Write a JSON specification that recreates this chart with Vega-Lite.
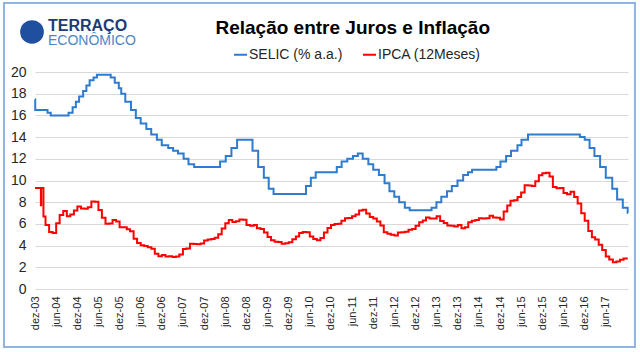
{
  "$schema": "https://vega.github.io/schema/vega-lite/v6.json",
  "width": 593,
  "height": 217,
  "autosize": {"type": "none"},
  "padding": {"left": 35, "top": 72, "right": 12, "bottom": 63},
  "background": "white",
  "datasets": {
    "selic": [
      {"d": "2003-12-01", "v": 17.5},
      {"d": "2003-12-03", "v": 16.5},
      {"d": "2004-03-18", "v": 16.25},
      {"d": "2004-04-15", "v": 16.0},
      {"d": "2004-09-16", "v": 16.25},
      {"d": "2004-10-21", "v": 16.75},
      {"d": "2004-11-18", "v": 17.25},
      {"d": "2004-12-16", "v": 17.75},
      {"d": "2005-01-20", "v": 18.25},
      {"d": "2005-02-17", "v": 18.75},
      {"d": "2005-03-17", "v": 19.25},
      {"d": "2005-04-20", "v": 19.5},
      {"d": "2005-05-19", "v": 19.75},
      {"d": "2005-09-15", "v": 19.5},
      {"d": "2005-10-20", "v": 19.0},
      {"d": "2005-11-24", "v": 18.5},
      {"d": "2005-12-15", "v": 18.0},
      {"d": "2006-01-19", "v": 17.25},
      {"d": "2006-03-09", "v": 16.5},
      {"d": "2006-04-20", "v": 15.75},
      {"d": "2006-06-01", "v": 15.25},
      {"d": "2006-07-20", "v": 14.75},
      {"d": "2006-08-31", "v": 14.25},
      {"d": "2006-10-19", "v": 13.75},
      {"d": "2006-11-30", "v": 13.25},
      {"d": "2007-01-25", "v": 13.0},
      {"d": "2007-03-08", "v": 12.75},
      {"d": "2007-04-19", "v": 12.5},
      {"d": "2007-06-07", "v": 12.0},
      {"d": "2007-07-19", "v": 11.5},
      {"d": "2007-09-06", "v": 11.25},
      {"d": "2008-04-17", "v": 11.75},
      {"d": "2008-06-05", "v": 12.25},
      {"d": "2008-07-24", "v": 13.0},
      {"d": "2008-09-11", "v": 13.75},
      {"d": "2009-01-22", "v": 12.75},
      {"d": "2009-03-12", "v": 11.25},
      {"d": "2009-04-30", "v": 10.25},
      {"d": "2009-06-11", "v": 9.25},
      {"d": "2009-07-23", "v": 8.75},
      {"d": "2010-04-29", "v": 9.5},
      {"d": "2010-06-10", "v": 10.25},
      {"d": "2010-07-22", "v": 10.75},
      {"d": "2011-01-20", "v": 11.25},
      {"d": "2011-03-03", "v": 11.75},
      {"d": "2011-04-21", "v": 12.0},
      {"d": "2011-06-09", "v": 12.25},
      {"d": "2011-07-21", "v": 12.5},
      {"d": "2011-09-01", "v": 12.0},
      {"d": "2011-10-20", "v": 11.5},
      {"d": "2011-12-01", "v": 11.0},
      {"d": "2012-01-19", "v": 10.5},
      {"d": "2012-03-08", "v": 9.75},
      {"d": "2012-04-19", "v": 9.0},
      {"d": "2012-05-31", "v": 8.5},
      {"d": "2012-07-12", "v": 8.0},
      {"d": "2012-08-30", "v": 7.5},
      {"d": "2012-10-11", "v": 7.25},
      {"d": "2013-04-18", "v": 7.5},
      {"d": "2013-05-30", "v": 8.0},
      {"d": "2013-07-11", "v": 8.5},
      {"d": "2013-08-29", "v": 9.0},
      {"d": "2013-10-10", "v": 9.5},
      {"d": "2013-11-28", "v": 10.0},
      {"d": "2014-01-16", "v": 10.5},
      {"d": "2014-02-27", "v": 10.75},
      {"d": "2014-04-03", "v": 11.0},
      {"d": "2014-10-30", "v": 11.25},
      {"d": "2014-12-04", "v": 11.75},
      {"d": "2015-01-22", "v": 12.25},
      {"d": "2015-03-05", "v": 12.75},
      {"d": "2015-04-30", "v": 13.25},
      {"d": "2015-06-04", "v": 13.75},
      {"d": "2015-07-30", "v": 14.25},
      {"d": "2016-10-20", "v": 14.0},
      {"d": "2016-12-01", "v": 13.75},
      {"d": "2017-01-12", "v": 13.0},
      {"d": "2017-02-23", "v": 12.25},
      {"d": "2017-04-13", "v": 11.25},
      {"d": "2017-06-01", "v": 10.25},
      {"d": "2017-07-27", "v": 9.25},
      {"d": "2017-09-07", "v": 8.25},
      {"d": "2017-10-26", "v": 7.5},
      {"d": "2017-12-07", "v": 7.0},
      {"d": "2017-12-09", "v": 7.0}
    ],
    "ipca": [
      {"d": "2003-12-01", "v": 9.30},
      {"d": "2004-01-21", "v": 7.71},
      {"d": "2004-01-23", "v": 9.30},
      {"d": "2004-02-12", "v": 6.69},
      {"d": "2004-03-01", "v": 5.89},
      {"d": "2004-04-01", "v": 5.26},
      {"d": "2004-05-01", "v": 5.15},
      {"d": "2004-06-01", "v": 6.06},
      {"d": "2004-07-01", "v": 6.81},
      {"d": "2004-08-01", "v": 7.18},
      {"d": "2004-09-01", "v": 6.71},
      {"d": "2004-10-01", "v": 6.86},
      {"d": "2004-11-01", "v": 7.24},
      {"d": "2004-12-01", "v": 7.60},
      {"d": "2005-01-01", "v": 7.41},
      {"d": "2005-02-01", "v": 7.39},
      {"d": "2005-03-01", "v": 7.54},
      {"d": "2005-04-01", "v": 8.07},
      {"d": "2005-05-01", "v": 8.05},
      {"d": "2005-06-01", "v": 7.27},
      {"d": "2005-07-01", "v": 6.57},
      {"d": "2005-08-01", "v": 6.02},
      {"d": "2005-09-01", "v": 6.04},
      {"d": "2005-10-01", "v": 6.36},
      {"d": "2005-11-01", "v": 6.22},
      {"d": "2005-12-01", "v": 5.69},
      {"d": "2006-01-01", "v": 5.70},
      {"d": "2006-02-01", "v": 5.51},
      {"d": "2006-03-01", "v": 5.32},
      {"d": "2006-04-01", "v": 4.63},
      {"d": "2006-05-01", "v": 4.23},
      {"d": "2006-06-01", "v": 4.03},
      {"d": "2006-07-01", "v": 3.97},
      {"d": "2006-08-01", "v": 3.84},
      {"d": "2006-09-01", "v": 3.70},
      {"d": "2006-10-01", "v": 3.26},
      {"d": "2006-11-01", "v": 3.02},
      {"d": "2006-12-01", "v": 3.14},
      {"d": "2007-01-01", "v": 2.99},
      {"d": "2007-02-01", "v": 3.02},
      {"d": "2007-03-01", "v": 2.96},
      {"d": "2007-04-01", "v": 3.00},
      {"d": "2007-05-01", "v": 3.18},
      {"d": "2007-06-01", "v": 3.69},
      {"d": "2007-07-01", "v": 3.74},
      {"d": "2007-08-01", "v": 4.18},
      {"d": "2007-09-01", "v": 4.15},
      {"d": "2007-10-01", "v": 4.12},
      {"d": "2007-11-01", "v": 4.19},
      {"d": "2007-12-01", "v": 4.46},
      {"d": "2008-01-01", "v": 4.56},
      {"d": "2008-02-01", "v": 4.61},
      {"d": "2008-03-01", "v": 4.73},
      {"d": "2008-04-01", "v": 5.04},
      {"d": "2008-05-01", "v": 5.58},
      {"d": "2008-06-01", "v": 6.06},
      {"d": "2008-07-01", "v": 6.37},
      {"d": "2008-08-01", "v": 6.17},
      {"d": "2008-09-01", "v": 6.25},
      {"d": "2008-10-01", "v": 6.41},
      {"d": "2008-11-01", "v": 6.39},
      {"d": "2008-12-01", "v": 5.90},
      {"d": "2009-01-01", "v": 5.84},
      {"d": "2009-02-01", "v": 5.90},
      {"d": "2009-03-01", "v": 5.61},
      {"d": "2009-04-01", "v": 5.53},
      {"d": "2009-05-01", "v": 5.20},
      {"d": "2009-06-01", "v": 4.80},
      {"d": "2009-07-01", "v": 4.50},
      {"d": "2009-08-01", "v": 4.36},
      {"d": "2009-09-01", "v": 4.34},
      {"d": "2009-10-01", "v": 4.17},
      {"d": "2009-11-01", "v": 4.22},
      {"d": "2009-12-01", "v": 4.31},
      {"d": "2010-01-01", "v": 4.59},
      {"d": "2010-02-01", "v": 4.83},
      {"d": "2010-03-01", "v": 5.17},
      {"d": "2010-04-01", "v": 5.26},
      {"d": "2010-05-01", "v": 5.22},
      {"d": "2010-06-01", "v": 4.84},
      {"d": "2010-07-01", "v": 4.60},
      {"d": "2010-08-01", "v": 4.49},
      {"d": "2010-09-01", "v": 4.70},
      {"d": "2010-10-01", "v": 5.20},
      {"d": "2010-11-01", "v": 5.63},
      {"d": "2010-12-01", "v": 5.91},
      {"d": "2011-01-01", "v": 5.99},
      {"d": "2011-02-01", "v": 6.01},
      {"d": "2011-03-01", "v": 6.30},
      {"d": "2011-04-01", "v": 6.51},
      {"d": "2011-05-01", "v": 6.55},
      {"d": "2011-06-01", "v": 6.71},
      {"d": "2011-07-01", "v": 6.87},
      {"d": "2011-08-01", "v": 7.23},
      {"d": "2011-09-01", "v": 7.31},
      {"d": "2011-10-01", "v": 6.97},
      {"d": "2011-11-01", "v": 6.64},
      {"d": "2011-12-01", "v": 6.50},
      {"d": "2012-01-01", "v": 6.22},
      {"d": "2012-02-01", "v": 5.85},
      {"d": "2012-03-01", "v": 5.24},
      {"d": "2012-04-01", "v": 5.10},
      {"d": "2012-05-01", "v": 4.99},
      {"d": "2012-06-01", "v": 4.92},
      {"d": "2012-07-01", "v": 5.20},
      {"d": "2012-08-01", "v": 5.24},
      {"d": "2012-09-01", "v": 5.28},
      {"d": "2012-10-01", "v": 5.45},
      {"d": "2012-11-01", "v": 5.53},
      {"d": "2012-12-01", "v": 5.84},
      {"d": "2013-01-01", "v": 6.15},
      {"d": "2013-02-01", "v": 6.31},
      {"d": "2013-03-01", "v": 6.59},
      {"d": "2013-04-01", "v": 6.49},
      {"d": "2013-05-01", "v": 6.50},
      {"d": "2013-06-01", "v": 6.70},
      {"d": "2013-07-01", "v": 6.27},
      {"d": "2013-08-01", "v": 6.09},
      {"d": "2013-09-01", "v": 5.86},
      {"d": "2013-10-01", "v": 5.84},
      {"d": "2013-11-01", "v": 5.77},
      {"d": "2013-12-01", "v": 5.91},
      {"d": "2014-01-01", "v": 5.59},
      {"d": "2014-02-01", "v": 5.68},
      {"d": "2014-03-01", "v": 6.15},
      {"d": "2014-04-01", "v": 6.28},
      {"d": "2014-05-01", "v": 6.37},
      {"d": "2014-06-01", "v": 6.52},
      {"d": "2014-07-01", "v": 6.50},
      {"d": "2014-08-01", "v": 6.51},
      {"d": "2014-09-01", "v": 6.75},
      {"d": "2014-10-01", "v": 6.59},
      {"d": "2014-11-01", "v": 6.56},
      {"d": "2014-12-01", "v": 6.41},
      {"d": "2015-01-01", "v": 7.14},
      {"d": "2015-02-01", "v": 7.70},
      {"d": "2015-03-01", "v": 8.13},
      {"d": "2015-04-01", "v": 8.17},
      {"d": "2015-05-01", "v": 8.47},
      {"d": "2015-06-01", "v": 8.89},
      {"d": "2015-07-01", "v": 9.56},
      {"d": "2015-08-01", "v": 9.53},
      {"d": "2015-09-01", "v": 9.49},
      {"d": "2015-10-01", "v": 9.93},
      {"d": "2015-11-01", "v": 10.48},
      {"d": "2015-12-01", "v": 10.67},
      {"d": "2016-01-01", "v": 10.71},
      {"d": "2016-02-01", "v": 10.36},
      {"d": "2016-03-01", "v": 9.39},
      {"d": "2016-04-01", "v": 9.28},
      {"d": "2016-05-01", "v": 9.32},
      {"d": "2016-06-01", "v": 8.84},
      {"d": "2016-07-01", "v": 8.74},
      {"d": "2016-08-01", "v": 8.97},
      {"d": "2016-09-01", "v": 8.48},
      {"d": "2016-10-01", "v": 7.87},
      {"d": "2016-11-01", "v": 6.99},
      {"d": "2016-12-01", "v": 6.29},
      {"d": "2017-01-01", "v": 5.35},
      {"d": "2017-02-01", "v": 4.76},
      {"d": "2017-03-01", "v": 4.57},
      {"d": "2017-04-01", "v": 4.08},
      {"d": "2017-05-01", "v": 3.60},
      {"d": "2017-06-01", "v": 3.00},
      {"d": "2017-07-01", "v": 2.71},
      {"d": "2017-08-01", "v": 2.46},
      {"d": "2017-09-01", "v": 2.54},
      {"d": "2017-10-01", "v": 2.70},
      {"d": "2017-11-01", "v": 2.80},
      {"d": "2017-12-08", "v": 2.80}
    ]
  },
  "layer": [
    {
      "data": {"name": "selic"},
      "mark": {"type": "line", "interpolate": "step-after", "strokeWidth": 2},
      "encoding": {
        "x": {"field": "d", "type": "temporal", "scale": {"domain": [{"year": 2003, "month": 12, "date": 1}, {"year": 2017, "month": 12, "date": 10}]},
          "axis": {"title": null, "grid": false, "domain": false, "ticks": false, "labelAngle": -90, "labelAlign": "right", "labelBaseline": "middle", "labelPadding": 7, "labelFont": "Liberation Sans", "labelFontSize": 11, "labelColor": "#262626", "labelOverlap": false,
            "values": [{"year": 2003, "month": 12, "date": 1}, {"year": 2004, "month": 6, "date": 1}, {"year": 2004, "month": 12, "date": 1}, {"year": 2005, "month": 6, "date": 1}, {"year": 2005, "month": 12, "date": 1}, {"year": 2006, "month": 6, "date": 1}, {"year": 2006, "month": 12, "date": 1}, {"year": 2007, "month": 6, "date": 1}, {"year": 2007, "month": 12, "date": 1}, {"year": 2008, "month": 6, "date": 1}, {"year": 2008, "month": 12, "date": 1}, {"year": 2009, "month": 6, "date": 1}, {"year": 2009, "month": 12, "date": 1}, {"year": 2010, "month": 6, "date": 1}, {"year": 2010, "month": 12, "date": 1}, {"year": 2011, "month": 6, "date": 1}, {"year": 2011, "month": 12, "date": 1}, {"year": 2012, "month": 6, "date": 1}, {"year": 2012, "month": 12, "date": 1}, {"year": 2013, "month": 6, "date": 1}, {"year": 2013, "month": 12, "date": 1}, {"year": 2014, "month": 6, "date": 1}, {"year": 2014, "month": 12, "date": 1}, {"year": 2015, "month": 6, "date": 1}, {"year": 2015, "month": 12, "date": 1}, {"year": 2016, "month": 6, "date": 1}, {"year": 2016, "month": 12, "date": 1}, {"year": 2017, "month": 6, "date": 1}],
            "labelExpr": "(month(datum.value) == 11 ? 'dez-' : 'jun-') + timeFormat(datum.value, '%y')"}},
        "y": {"field": "v", "type": "quantitative", "scale": {"domain": [0, 20], "nice": false},
          "axis": {"title": null, "values": [0, 2, 4, 6, 8, 10, 12, 14, 16, 18, 20], "domain": false, "ticks": false, "grid": true, "gridColor": "#d9d9d9", "gridWidth": 1, "labelPadding": 9, "labelFont": "Liberation Sans", "labelFontSize": 14, "labelColor": "#262626"}},
        "color": {
          "datum": "SELIC (% a.a.)",
          "type": "nominal",
          "scale": {"domain": ["SELIC (% a.a.)", "IPCA (12Meses)"], "range": ["#2e7bcf", "#ff0000"]},
          "legend": {"title": null, "orient": "none", "legendX": 198, "legendY": -25, "direction": "horizontal", "symbolType": "stroke", "symbolStrokeWidth": 2, "symbolSize": 169, "labelFont": "Liberation Sans", "labelFontSize": 14, "labelColor": "#262626", "labelOffset": 1, "columnPadding": 16}
        }
      }
    },
    {
      "data": {"name": "ipca"},
      "mark": {"type": "line", "interpolate": "step-after", "strokeWidth": 2},
      "encoding": {
        "x": {"field": "d", "type": "temporal",
          "axis": {"title": null, "grid": false, "domain": false, "ticks": false, "labelAngle": -90, "labelAlign": "right", "labelBaseline": "middle", "labelPadding": 7, "labelFont": "Liberation Sans", "labelFontSize": 11, "labelColor": "#262626", "labelOverlap": false,
            "values": [{"year": 2003, "month": 12, "date": 1}, {"year": 2004, "month": 6, "date": 1}, {"year": 2004, "month": 12, "date": 1}, {"year": 2005, "month": 6, "date": 1}, {"year": 2005, "month": 12, "date": 1}, {"year": 2006, "month": 6, "date": 1}, {"year": 2006, "month": 12, "date": 1}, {"year": 2007, "month": 6, "date": 1}, {"year": 2007, "month": 12, "date": 1}, {"year": 2008, "month": 6, "date": 1}, {"year": 2008, "month": 12, "date": 1}, {"year": 2009, "month": 6, "date": 1}, {"year": 2009, "month": 12, "date": 1}, {"year": 2010, "month": 6, "date": 1}, {"year": 2010, "month": 12, "date": 1}, {"year": 2011, "month": 6, "date": 1}, {"year": 2011, "month": 12, "date": 1}, {"year": 2012, "month": 6, "date": 1}, {"year": 2012, "month": 12, "date": 1}, {"year": 2013, "month": 6, "date": 1}, {"year": 2013, "month": 12, "date": 1}, {"year": 2014, "month": 6, "date": 1}, {"year": 2014, "month": 12, "date": 1}, {"year": 2015, "month": 6, "date": 1}, {"year": 2015, "month": 12, "date": 1}, {"year": 2016, "month": 6, "date": 1}, {"year": 2016, "month": 12, "date": 1}, {"year": 2017, "month": 6, "date": 1}],
            "labelExpr": "(month(datum.value) == 11 ? 'dez-' : 'jun-') + timeFormat(datum.value, '%y')"}},
        "y": {"field": "v", "type": "quantitative",
          "axis": {"title": null, "values": [0, 2, 4, 6, 8, 10, 12, 14, 16, 18, 20], "domain": false, "ticks": false, "grid": true, "gridColor": "#d9d9d9", "gridWidth": 1, "labelPadding": 9, "labelFont": "Liberation Sans", "labelFontSize": 14, "labelColor": "#262626"}},
        "color": {"datum": "IPCA (12Meses)", "type": "nominal"}
      }
    },
    {
      "data": {"values": [{}]},
      "mark": {"type": "rect", "fill": "white", "fillOpacity": 0, "stroke": "#8db4e2", "strokeWidth": 2},
      "encoding": {
        "x": {"datum": {"year": 2003, "month": 3, "date": 8}, "type": "temporal",
          "axis": {"title": null, "grid": false, "domain": false, "ticks": false, "labelAngle": -90, "labelAlign": "right", "labelBaseline": "middle", "labelPadding": 7, "labelFont": "Liberation Sans", "labelFontSize": 11, "labelColor": "#262626", "labelOverlap": false,
            "values": [{"year": 2003, "month": 12, "date": 1}, {"year": 2004, "month": 6, "date": 1}, {"year": 2004, "month": 12, "date": 1}, {"year": 2005, "month": 6, "date": 1}, {"year": 2005, "month": 12, "date": 1}, {"year": 2006, "month": 6, "date": 1}, {"year": 2006, "month": 12, "date": 1}, {"year": 2007, "month": 6, "date": 1}, {"year": 2007, "month": 12, "date": 1}, {"year": 2008, "month": 6, "date": 1}, {"year": 2008, "month": 12, "date": 1}, {"year": 2009, "month": 6, "date": 1}, {"year": 2009, "month": 12, "date": 1}, {"year": 2010, "month": 6, "date": 1}, {"year": 2010, "month": 12, "date": 1}, {"year": 2011, "month": 6, "date": 1}, {"year": 2011, "month": 12, "date": 1}, {"year": 2012, "month": 6, "date": 1}, {"year": 2012, "month": 12, "date": 1}, {"year": 2013, "month": 6, "date": 1}, {"year": 2013, "month": 12, "date": 1}, {"year": 2014, "month": 6, "date": 1}, {"year": 2014, "month": 12, "date": 1}, {"year": 2015, "month": 6, "date": 1}, {"year": 2015, "month": 12, "date": 1}, {"year": 2016, "month": 6, "date": 1}, {"year": 2016, "month": 12, "date": 1}, {"year": 2017, "month": 6, "date": 1}],
            "labelExpr": "(month(datum.value) == 11 ? 'dez-' : 'jun-') + timeFormat(datum.value, '%y')"}},
        "x2": {"datum": {"year": 2018, "month": 2, "date": 8}},
        "y": {"datum": 26.36, "type": "quantitative",
          "axis": {"title": null, "values": [0, 2, 4, 6, 8, 10, 12, 14, 16, 18, 20], "domain": false, "ticks": false, "grid": true, "gridColor": "#d9d9d9", "gridWidth": 1, "labelPadding": 9, "labelFont": "Liberation Sans", "labelFontSize": 14, "labelColor": "#262626"}},
        "y2": {"datum": -5.35}
      }
    },
    {
      "data": {"values": [{}]},
      "mark": {"type": "text", "text": "Relação entre Juros e Inflação", "align": "center", "baseline": "alphabetic", "font": "Liberation Sans", "fontSize": 19, "fontWeight": "bold", "color": "#000000"},
      "encoding": {
        "x": {"datum": {"year": 2011, "month": 6, "date": 7}, "type": "temporal",
          "axis": {"title": null, "grid": false, "domain": false, "ticks": false, "labelAngle": -90, "labelAlign": "right", "labelBaseline": "middle", "labelPadding": 7, "labelFont": "Liberation Sans", "labelFontSize": 11, "labelColor": "#262626", "labelOverlap": false,
            "values": [{"year": 2003, "month": 12, "date": 1}, {"year": 2004, "month": 6, "date": 1}, {"year": 2004, "month": 12, "date": 1}, {"year": 2005, "month": 6, "date": 1}, {"year": 2005, "month": 12, "date": 1}, {"year": 2006, "month": 6, "date": 1}, {"year": 2006, "month": 12, "date": 1}, {"year": 2007, "month": 6, "date": 1}, {"year": 2007, "month": 12, "date": 1}, {"year": 2008, "month": 6, "date": 1}, {"year": 2008, "month": 12, "date": 1}, {"year": 2009, "month": 6, "date": 1}, {"year": 2009, "month": 12, "date": 1}, {"year": 2010, "month": 6, "date": 1}, {"year": 2010, "month": 12, "date": 1}, {"year": 2011, "month": 6, "date": 1}, {"year": 2011, "month": 12, "date": 1}, {"year": 2012, "month": 6, "date": 1}, {"year": 2012, "month": 12, "date": 1}, {"year": 2013, "month": 6, "date": 1}, {"year": 2013, "month": 12, "date": 1}, {"year": 2014, "month": 6, "date": 1}, {"year": 2014, "month": 12, "date": 1}, {"year": 2015, "month": 6, "date": 1}, {"year": 2015, "month": 12, "date": 1}, {"year": 2016, "month": 6, "date": 1}, {"year": 2016, "month": 12, "date": 1}, {"year": 2017, "month": 6, "date": 1}],
            "labelExpr": "(month(datum.value) == 11 ? 'dez-' : 'jun-') + timeFormat(datum.value, '%y')"}},
        "y": {"datum": 23.5, "type": "quantitative",
          "axis": {"title": null, "values": [0, 2, 4, 6, 8, 10, 12, 14, 16, 18, 20], "domain": false, "ticks": false, "grid": true, "gridColor": "#d9d9d9", "gridWidth": 1, "labelPadding": 9, "labelFont": "Liberation Sans", "labelFontSize": 14, "labelColor": "#262626"}}
      }
    },
    {
      "data": {"values": [{}]},
      "mark": {"type": "point", "shape": "circle", "filled": true, "color": "#1f4f9e", "opacity": 1, "size": 560},
      "encoding": {
        "x": {"datum": {"year": 2003, "month": 11, "date": 5}, "type": "temporal",
          "axis": {"title": null, "grid": false, "domain": false, "ticks": false, "labelAngle": -90, "labelAlign": "right", "labelBaseline": "middle", "labelPadding": 7, "labelFont": "Liberation Sans", "labelFontSize": 11, "labelColor": "#262626", "labelOverlap": false,
            "values": [{"year": 2003, "month": 12, "date": 1}, {"year": 2004, "month": 6, "date": 1}, {"year": 2004, "month": 12, "date": 1}, {"year": 2005, "month": 6, "date": 1}, {"year": 2005, "month": 12, "date": 1}, {"year": 2006, "month": 6, "date": 1}, {"year": 2006, "month": 12, "date": 1}, {"year": 2007, "month": 6, "date": 1}, {"year": 2007, "month": 12, "date": 1}, {"year": 2008, "month": 6, "date": 1}, {"year": 2008, "month": 12, "date": 1}, {"year": 2009, "month": 6, "date": 1}, {"year": 2009, "month": 12, "date": 1}, {"year": 2010, "month": 6, "date": 1}, {"year": 2010, "month": 12, "date": 1}, {"year": 2011, "month": 6, "date": 1}, {"year": 2011, "month": 12, "date": 1}, {"year": 2012, "month": 6, "date": 1}, {"year": 2012, "month": 12, "date": 1}, {"year": 2013, "month": 6, "date": 1}, {"year": 2013, "month": 12, "date": 1}, {"year": 2014, "month": 6, "date": 1}, {"year": 2014, "month": 12, "date": 1}, {"year": 2015, "month": 6, "date": 1}, {"year": 2015, "month": 12, "date": 1}, {"year": 2016, "month": 6, "date": 1}, {"year": 2016, "month": 12, "date": 1}, {"year": 2017, "month": 6, "date": 1}],
            "labelExpr": "(month(datum.value) == 11 ? 'dez-' : 'jun-') + timeFormat(datum.value, '%y')"}},
        "y": {"datum": 23.69, "type": "quantitative",
          "axis": {"title": null, "values": [0, 2, 4, 6, 8, 10, 12, 14, 16, 18, 20], "domain": false, "ticks": false, "grid": true, "gridColor": "#d9d9d9", "gridWidth": 1, "labelPadding": 9, "labelFont": "Liberation Sans", "labelFontSize": 14, "labelColor": "#262626"}}
      }
    },
    {
      "data": {"values": [{}]},
      "mark": {"type": "text", "text": "TERRAÇO", "align": "left", "baseline": "alphabetic", "font": "Liberation Sans", "fontSize": 16, "fontWeight": "bold", "color": "#1c3b77"},
      "encoding": {
        "x": {"datum": {"year": 2004, "month": 3, "date": 22}, "type": "temporal",
          "axis": {"title": null, "grid": false, "domain": false, "ticks": false, "labelAngle": -90, "labelAlign": "right", "labelBaseline": "middle", "labelPadding": 7, "labelFont": "Liberation Sans", "labelFontSize": 11, "labelColor": "#262626", "labelOverlap": false,
            "values": [{"year": 2003, "month": 12, "date": 1}, {"year": 2004, "month": 6, "date": 1}, {"year": 2004, "month": 12, "date": 1}, {"year": 2005, "month": 6, "date": 1}, {"year": 2005, "month": 12, "date": 1}, {"year": 2006, "month": 6, "date": 1}, {"year": 2006, "month": 12, "date": 1}, {"year": 2007, "month": 6, "date": 1}, {"year": 2007, "month": 12, "date": 1}, {"year": 2008, "month": 6, "date": 1}, {"year": 2008, "month": 12, "date": 1}, {"year": 2009, "month": 6, "date": 1}, {"year": 2009, "month": 12, "date": 1}, {"year": 2010, "month": 6, "date": 1}, {"year": 2010, "month": 12, "date": 1}, {"year": 2011, "month": 6, "date": 1}, {"year": 2011, "month": 12, "date": 1}, {"year": 2012, "month": 6, "date": 1}, {"year": 2012, "month": 12, "date": 1}, {"year": 2013, "month": 6, "date": 1}, {"year": 2013, "month": 12, "date": 1}, {"year": 2014, "month": 6, "date": 1}, {"year": 2014, "month": 12, "date": 1}, {"year": 2015, "month": 6, "date": 1}, {"year": 2015, "month": 12, "date": 1}, {"year": 2016, "month": 6, "date": 1}, {"year": 2016, "month": 12, "date": 1}, {"year": 2017, "month": 6, "date": 1}],
            "labelExpr": "(month(datum.value) == 11 ? 'dez-' : 'jun-') + timeFormat(datum.value, '%y')"}},
        "y": {"datum": 23.75, "type": "quantitative",
          "axis": {"title": null, "values": [0, 2, 4, 6, 8, 10, 12, 14, 16, 18, 20], "domain": false, "ticks": false, "grid": true, "gridColor": "#d9d9d9", "gridWidth": 1, "labelPadding": 9, "labelFont": "Liberation Sans", "labelFontSize": 14, "labelColor": "#262626"}}
      }
    },
    {
      "data": {"values": [{}]},
      "mark": {"type": "text", "text": "ECONÔMICO", "align": "left", "baseline": "alphabetic", "font": "Liberation Sans", "fontSize": 14, "color": "#4a86c8"},
      "encoding": {
        "x": {"datum": {"year": 2004, "month": 3, "date": 22}, "type": "temporal",
          "axis": {"title": null, "grid": false, "domain": false, "ticks": false, "labelAngle": -90, "labelAlign": "right", "labelBaseline": "middle", "labelPadding": 7, "labelFont": "Liberation Sans", "labelFontSize": 11, "labelColor": "#262626", "labelOverlap": false,
            "values": [{"year": 2003, "month": 12, "date": 1}, {"year": 2004, "month": 6, "date": 1}, {"year": 2004, "month": 12, "date": 1}, {"year": 2005, "month": 6, "date": 1}, {"year": 2005, "month": 12, "date": 1}, {"year": 2006, "month": 6, "date": 1}, {"year": 2006, "month": 12, "date": 1}, {"year": 2007, "month": 6, "date": 1}, {"year": 2007, "month": 12, "date": 1}, {"year": 2008, "month": 6, "date": 1}, {"year": 2008, "month": 12, "date": 1}, {"year": 2009, "month": 6, "date": 1}, {"year": 2009, "month": 12, "date": 1}, {"year": 2010, "month": 6, "date": 1}, {"year": 2010, "month": 12, "date": 1}, {"year": 2011, "month": 6, "date": 1}, {"year": 2011, "month": 12, "date": 1}, {"year": 2012, "month": 6, "date": 1}, {"year": 2012, "month": 12, "date": 1}, {"year": 2013, "month": 6, "date": 1}, {"year": 2013, "month": 12, "date": 1}, {"year": 2014, "month": 6, "date": 1}, {"year": 2014, "month": 12, "date": 1}, {"year": 2015, "month": 6, "date": 1}, {"year": 2015, "month": 12, "date": 1}, {"year": 2016, "month": 6, "date": 1}, {"year": 2016, "month": 12, "date": 1}, {"year": 2017, "month": 6, "date": 1}],
            "labelExpr": "(month(datum.value) == 11 ? 'dez-' : 'jun-') + timeFormat(datum.value, '%y')"}},
        "y": {"datum": 22.5, "type": "quantitative",
          "axis": {"title": null, "values": [0, 2, 4, 6, 8, 10, 12, 14, 16, 18, 20], "domain": false, "ticks": false, "grid": true, "gridColor": "#d9d9d9", "gridWidth": 1, "labelPadding": 9, "labelFont": "Liberation Sans", "labelFontSize": 14, "labelColor": "#262626"}}
      }
    }
  ],
  "config": {
    "view": {"stroke": null}
  }
}
